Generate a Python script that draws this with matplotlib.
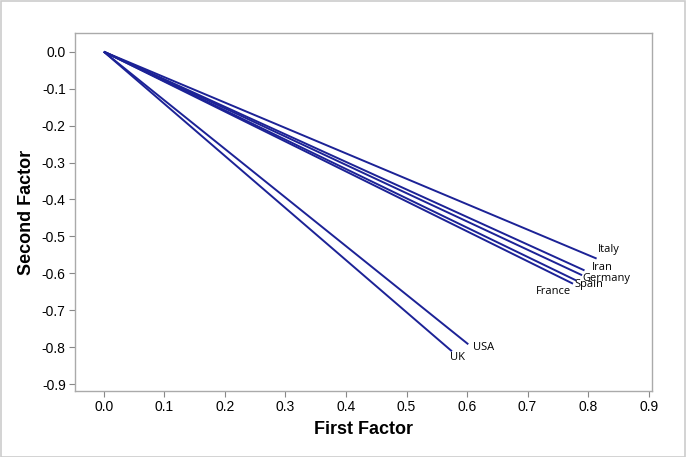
import matplotlib
matplotlib.use('Agg')
import matplotlib.pyplot as plt
from matplotlib.patches import Rectangle

# loadings
countries = ['Italy', 'Iran', 'Germany', 'Spain', 'France', 'USA', 'UK']
first_factor = [0.814, 0.794, 0.790, 0.780, 0.775, 0.602, 0.575]
second_factor = [-0.560, -0.592, -0.605, -0.619, -0.628, -0.792, -0.811]
# label offsets in pixels and alignment (placed like the original)
label_offsets = [(1, 9), (7, 3), (0, -3), (-2, -4), (-2, -8), (5, -3), (-2, -6)]
label_align = ['left', 'left', 'left', 'left', 'right', 'left', 'left']

plt.rcParams['font.family'] = ['Liberation Sans', 'DejaVu Sans']

fig = plt.figure(figsize=(6.86, 4.57), dpi=100)
ax = fig.add_axes([0.109, 0.144, 0.841, 0.784])

line_color = '#1c2296'
for name, x, y, off, ha in zip(countries, first_factor, second_factor, label_offsets, label_align):
    ax.plot([0, x], [0, y], color=line_color, lw=1.4, solid_capstyle='butt')
    ax.annotate(name, (x, y), xytext=off, textcoords='offset pixels',
                ha=ha, va='center', fontsize=8, family=['Open Sans', 'DejaVu Sans'])

ax.set_xlim(-0.048, 0.905)
ax.set_ylim(-0.919, 0.051)
ax.set_xticks([i / 10 for i in range(10)])
ax.set_yticks([-i / 10 for i in range(10)])
ax.set_xticklabels(['%.1f' % (i / 10) for i in range(10)])
ax.set_yticklabels(['0.0'] + ['-%.1f' % (i / 10) for i in range(1, 10)])
ax.tick_params(colors='#888888', labelcolor='black', labelsize=10, length=4, width=0.8, pad=2.5)

for s in ax.spines.values():
    s.set_color('#aaaaaa')
    s.set_linewidth(1.0)

ax.set_xlabel('First Factor', fontsize=13, fontweight='bold', labelpad=5)
ax.set_ylabel('Second Factor', fontsize=13, fontweight='bold', labelpad=5)

# outer frame of the image
fig.patches.append(Rectangle((0.001, 0.001), 0.998, 0.997, transform=fig.transFigure,
                             fill=False, edgecolor='#cccccc', lw=1.2))

fig.savefig('out.png', dpi=100)
